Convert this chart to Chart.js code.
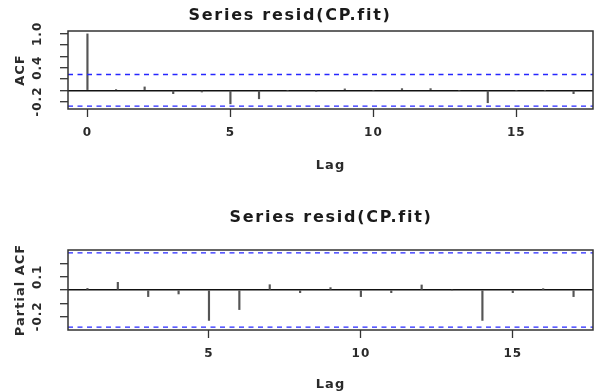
<!DOCTYPE html>
<html><head><meta charset="utf-8">
<script src="https://cdn.jsdelivr.net/npm/chart.js@4"></script>
<style>
html,body{margin:0;padding:0;background:#fff;overflow:hidden;width:594px;height:392px}
canvas{display:block;position:absolute;left:0}
</style></head><body>
<canvas id="c1" width="594" height="196" style="top:0"></canvas>
<canvas id="c2" width="594" height="196" style="top:196px"></canvas>
<script>
// ---- data ----
const titleText = 'Series resid(CP.fit)';
const acfLags = [0,1,2,3,4,5,6,7,8,9,10,11,12,13,14,15,16,17];
const acfValues = [1.0, 0.01, 0.06, -0.06, -0.03, -0.24, -0.15, 0.0, -0.02, 0.025, 0.0, 0.03, 0.03, 0.0, -0.22, 0.0, 0.0, -0.06];
const pacfLags = [1,2,3,4,5,6,7,8,9,10,11,12,13,14,15,16,17];
const pacfValues = [0.012, 0.058, -0.05, -0.03, -0.23, -0.148, 0.04, -0.02, 0.018, -0.05, -0.02, 0.038, 0.0, -0.23, -0.02, 0.01, -0.05];
const ciLimit = 0.28;
const acfXTicks = [0,5,10,15];
const pacfXTicks = [5,10,15];
const acfYTicks = [-0.2,0,0.2,0.4,0.6,0.8,1.0];
const acfYLabelled = [-0.2,0.4,1.0];
const pacfYTicks = [-0.2,-0.1,0,0.1,0.2];
const pacfYLabelled = [-0.2,0.1];

// ---- helpers ----
function extRange(lo, hi){ const d = (hi-lo)*0.04; return [lo-d, hi+d]; }
const FONT = 'DejaVu Sans';
const INK = '#2a2a2a';

const spacingPlugin = {
  id:'spacing',
  beforeUpdate(chart){ chart.ctx.letterSpacing = '1px'; },
  beforeDraw(chart){ chart.ctx.letterSpacing = '1px'; }
};
const boxPlugin = {
  id:'box',
  afterDraw(chart){
    const {ctx, chartArea:a} = chart;
    ctx.save();
    ctx.strokeStyle = '#333';
    ctx.lineWidth = 1.5;
    ctx.strokeRect(a.left, a.top, a.right-a.left, a.bottom-a.top);
    ctx.restore();
  }
};
const mainTitlePlugin = {
  id:'mainTitle',
  afterDraw(chart, args, opts){
    const ctx = chart.ctx;
    ctx.save();
    ctx.letterSpacing = '1.75px';
    ctx.font = 'bold 16px "' + FONT + '"';
    ctx.fillStyle = '#1a1a1a';
    ctx.textAlign = 'center';
    ctx.textBaseline = 'alphabetic';
    ctx.fillText(opts.text, opts.x, opts.y);
    ctx.restore();
  }
};

function makeChart(id, lags, values, xTicks, yTicks, yLabelled, xr, yr, area, yTitle, lagPad, title){
  const ciLine = v => [{x:xr[0], y:v},{x:xr[1], y:v}];
  return new Chart(document.getElementById(id), {
    type:'bar',
    data:{
      datasets:[
        { type:'bar', data: lags.map((l,i)=>({x:l, y:values[i]})), backgroundColor:'#555', borderWidth:0, barThickness:1.5, order:2 },
        { type:'line', data: ciLine(ciLimit), borderColor:'#2626ff', borderWidth:1.3, borderDash:[5,4.5], pointRadius:0, fill:false, order:1 },
        { type:'line', data: ciLine(-ciLimit), borderColor:'#2626ff', borderWidth:1.3, borderDash:[5,4.5], pointRadius:0, fill:false, order:1 }
      ]
    },
    options:{
      responsive:false, animation:false, devicePixelRatio:1,
      layout:{ padding:{ left:0, right:594-area.right, top:area.top, bottom:0 } },
      plugins:{ legend:{display:false}, tooltip:{enabled:false}, title:{display:false}, mainTitle: title },
      scales:{
        x:{
          type:'linear', min:xr[0], max:xr[1], offset:false,
          afterBuildTicks: s => { s.ticks = xTicks.map(v=>({value:v})); },
          afterFit: s => { s.height = 196 - area.bottom; },
          grid:{ offset:false, drawOnChartArea:false, drawTicks:true, tickLength:8, tickColor:'#333', tickWidth:1.3 },
          border:{ display:false },
          ticks:{ autoSkip:false, maxRotation:0, padding:9, color:INK, font:{family:FONT, size:12, weight:'bold'}, callback: v => String(v) },
          title:{ display:true, text:'Lag', color:INK, font:{family:FONT, size:13, weight:'bold'}, padding:{top:0, bottom:lagPad} }
        },
        y:{
          type:'linear', min:yr[0], max:yr[1],
          afterBuildTicks: s => { s.ticks = yTicks.map(v=>({value:v})); },
          afterFit: s => { s.width = area.left; },
          grid:{ drawOnChartArea:true, drawTicks:true, tickLength:8, tickColor:'#333', tickWidth:1.3,
                 color: c => (c.tick && Math.abs(c.tick.value) < 1e-9) ? '#111' : 'rgba(0,0,0,0)', lineWidth:1.4 },
          border:{ display:false },
          ticks:{ autoSkip:false, minRotation:90, maxRotation:90, crossAlign:'center', padding:7, color:INK,
                  font:{family:FONT, size:12, weight:'bold'},
                  callback: v => yLabelled.some(t => Math.abs(t-v) < 1e-9) ? v.toFixed(1) : '' },
          title:{ display:true, text:yTitle, color:INK, font:{family:FONT, size:13, weight:'bold'}, padding:{top:13, bottom:0} }
        }
      }
    },
    plugins:[spacingPlugin, boxPlugin, mainTitlePlugin]
  });
}

const acfX = extRange(Math.min(...acfLags), Math.max(...acfLags));
const acfY = extRange(Math.min(-ciLimit, ...acfValues), Math.max(ciLimit, ...acfValues));
makeChart('c1', acfLags, acfValues, acfXTicks, acfYTicks, acfYLabelled, acfX, acfY,
  {left:68, right:593, top:31, bottom:109}, 'ACF', 23, {text:titleText, x:290, y:19.5});

const pacfX = extRange(Math.min(...pacfLags), Math.max(...pacfLags));
const pacfY = extRange(Math.min(-ciLimit, ...pacfValues), Math.max(ciLimit, ...pacfValues));
makeChart('c2', pacfLags, pacfValues, pacfXTicks, pacfYTicks, pacfYLabelled, pacfX, pacfY,
  {left:68, right:593, top:54, bottom:134}, 'Partial ACF', 0, {text:titleText, x:331, y:25.7});
</script>
</body></html>
